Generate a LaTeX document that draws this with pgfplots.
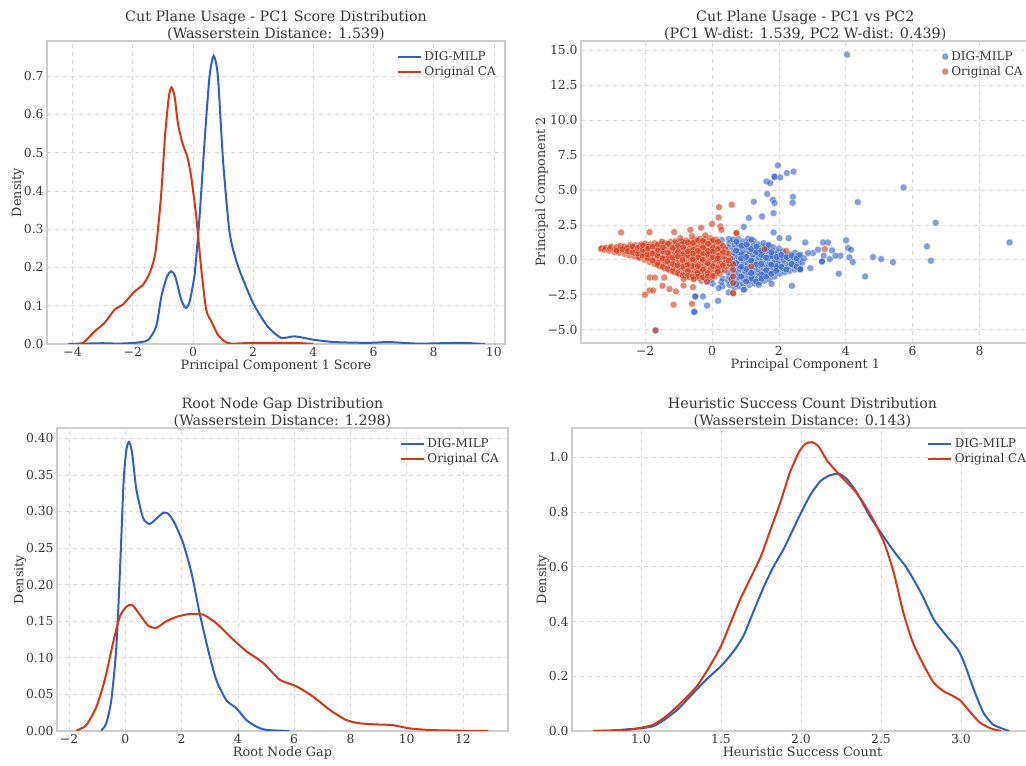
\documentclass[border=0pt]{standalone}
\usepackage{fontspec}
\setmainfont{DejaVu Serif}
\usepackage{pgfplots}
\pgfplotsset{compat=1.18}
\definecolor{digblue}{RGB}{45,95,205}
\definecolor{cared}{RGB}{215,55,20}
\definecolor{txt}{RGB}{55,55,55}
\pgfplotsset{
  panel/.style={
    scale only axis,
    anchor=south west,
    axis line style={draw=black!20, line width=0.8pt},
    grid=major,
    major grid style={dashed, black!14, line width=0.5pt},
    major tick length=0pt,
    tick label style={font=\fontsize{9.3}{10}\selectfont, text=txt},
    label style={font=\fontsize{9.6}{11}\selectfont, text=txt},
    xlabel style={yshift=4.5pt},
    ylabel style={yshift=-7pt},
    title style={font=\fontsize{10.7}{12.8}\selectfont, text=txt, align=center,
      yshift=-9.5pt},
    legend style={draw=none, fill=none, font=\fontsize{9}{10}\selectfont,
      text=txt, at={(0.995,0.985)}, anchor=north east, row sep=-1pt},
    legend cell align=left,
    /pgf/number format/assume math mode=true,
    /pgf/number format/fixed,
    /pgf/number format/fixed zerofill,
    xticklabel style={yshift=1pt},
    yticklabel style={xshift=1pt},
  },
  kde/.style={line width=1.5pt, smooth, tension=0.4},
  sblue/.style={only marks, mark=*, mark size=2.6pt,
    mark options={fill=digblue, draw=white, line width=0.3pt, opacity=0.6}},
  sred/.style={only marks, mark=*, mark size=2.6pt,
    mark options={fill=cared, draw=white, line width=0.3pt, opacity=0.6}},
}
\begin{document}
\begin{tikzpicture}
\useasboundingbox (0,0) rectangle (769.5pt,-574.5pt);

% top left: PC1 score KDE
\begin{axis}[panel, at={(35.25pt,-258pt)}, width=343.5pt, height=227.25pt,
  xmin=-4.85, xmax=10.37, ymin=0, ymax=0.792,
  xtick={-4,-2,...,10}, xticklabels={−4,−2,0,2,4,6,8,10},
  ytick={0,0.1,...,0.7},
  /pgf/number format/precision=1,
  title={Cut Plane Usage - PC1 Score Distribution\\(Wasserstein Distance: 1.539)},
  xlabel={Principal Component 1 Score}, ylabel={Density}]
\addplot[kde, digblue] coordinates {
(-4.14,0) (-3,0.002) (-2.5,0.001) (-1.94,0.003) (-1.5,0.01) (-1.22,0.046)
(-1.05,0.124) (-0.86,0.177) (-0.72,0.19) (-0.59,0.177) (-0.39,0.116)
(-0.24,0.094) (-0.11,0.111) (0.06,0.185) (0.22,0.333) (0.39,0.534)
(0.55,0.699) (0.69,0.753) (0.83,0.699) (1.0,0.48) (1.22,0.29) (1.5,0.203)
(2.0,0.107) (2.48,0.046) (2.93,0.016) (3.37,0.02) (4.03,0.011) (4.7,0.005)
(5.8,0.003) (6.53,0.005) (7.5,0.001) (8.9,0.003) (9.7,0)};
\addlegendentry{DIG-MILP}
\addplot[kde, cared] coordinates {
(-4.0,0) (-3.65,0.003) (-3.27,0.033) (-2.94,0.055) (-2.6,0.09) (-2.33,0.103)
(-1.94,0.137) (-1.66,0.155) (-1.44,0.185) (-1.25,0.238) (-1.07,0.377)
(-0.92,0.551) (-0.8,0.647) (-0.71,0.671) (-0.61,0.647) (-0.5,0.577)
(-0.35,0.525) (-0.19,0.49) (-0.06,0.438) (0.11,0.333) (0.28,0.194)
(0.44,0.09) (0.61,0.059) (0.83,0.024) (1.05,0.007) (1.27,0.001)
(2.05,0.003) (3.37,0.003) (4.0,0)};
\addlegendentry{Original CA}
\end{axis}

% top right: PC1 vs PC2 scatter
\begin{axis}[panel, at={(435.75pt,-257.25pt)}, width=336.45pt, height=226.5pt,
  xmin=-3.92, xmax=9.5, ymin=-5.96, ymax=15.67,
  xtick={-2,0,...,8}, xticklabels={−2,0,2,4,6,8},
  ytick={-5,-2.5,...,15}, yticklabels={−5.0,−2.5,0.0,2.5,5.0,7.5,10.0,12.5,15.0},
  title={Cut Plane Usage - PC1 vs PC2\\(PC1 W-dist: 1.539, PC2 W-dist: 0.439)},
  xlabel={Principal Component 1}, ylabel={Principal Component 2},
  legend style={at={(1.0,0.985)}}]
\addplot[sblue] coordinates {
(-0.32,-1.5) (-0.28,-1.1) (-0.45,-1.05) (0.02,-1.72) (-0.03,-1.45) (0.0,1.2) (-0.15,-1.6)
(0.31,-1.9) (0.28,-1.6) (0.32,-1.35) (0.29,1.42)
(0.52,-1.8) (0.48,-1.5) (0.51,-1.2) (0.49,-0.9) (0.5,1.5) (0.52,1.2) (0.48,0.9)
(0.67,-2.0) (0.63,-1.6) (0.66,-1.3) (0.64,-1.0) (0.68,-0.7) (0.62,-0.4) (0.65,-0.1)
(0.63,0.2) (0.66,0.5) (0.64,0.8) (0.67,1.1) (0.63,1.45)
(0.82,-1.9) (0.78,-1.55) (0.81,-1.25) (0.79,-0.95) (0.83,-0.65) (0.77,-0.35) (0.8,-0.05)
(0.78,0.25) (0.81,0.55) (0.79,0.85) (0.8,1.15) (0.78,1.5)
(0.97,-2.1) (0.93,-1.7) (0.96,-1.4) (0.94,-1.1) (0.98,-0.8) (0.92,-0.5) (0.95,-0.2)
(0.93,0.1) (0.96,0.4) (0.94,0.7) (0.95,1.0) (0.93,1.3)
(1.12,-1.8) (1.08,-1.5) (1.11,-1.2) (1.09,-0.9) (1.13,-0.6) (1.07,-0.3) (1.1,0.0)
(1.08,0.3) (1.11,0.6) (1.09,0.9) (1.1,1.2) (1.08,1.5)
(1.27,-1.7) (1.23,-1.4) (1.26,-1.1) (1.24,-0.8) (1.28,-0.5) (1.22,-0.2) (1.25,0.1)
(1.23,0.4) (1.26,0.7) (1.24,1.0) (1.25,1.35)
(1.42,-1.6) (1.38,-1.3) (1.41,-1.0) (1.39,-0.7) (1.43,-0.4) (1.37,-0.1) (1.4,0.2)
(1.38,0.5) (1.41,0.8) (1.39,1.1)
(1.57,-1.5) (1.53,-1.2) (1.56,-0.9) (1.54,-0.6) (1.58,-0.3) (1.52,0.0) (1.55,0.3)
(1.53,0.6) (1.56,0.9) (1.54,1.2)
(1.72,-1.4) (1.68,-1.1) (1.71,-0.8) (1.69,-0.5) (1.73,-0.2) (1.67,0.1) (1.7,0.4)
(1.68,0.7) (1.71,1.0)
(1.87,-1.2) (1.83,-0.9) (1.86,-0.6) (1.84,-0.3) (1.88,0.0) (1.82,0.3) (1.85,0.6) (1.83,0.9)
(2.02,-1.0) (1.98,-0.7) (2.01,-0.4) (1.99,-0.1) (2.03,0.2) (1.97,0.5) (2.0,0.8)
(2.17,-0.9) (2.13,-0.6) (2.16,-0.3) (2.14,0.0) (2.18,0.3) (2.12,0.6)
(2.32,-0.8) (2.28,-0.5) (2.31,-0.2) (2.29,0.1) (2.33,0.4)
(2.47,-0.7) (2.43,-0.4) (2.46,-0.1) (2.44,0.2) (2.48,0.5)
(2.62,-0.7) (2.58,-0.3) (2.61,0.0) (2.59,0.3)
(0.72,-0.25) (0.88,0.4) (1.02,-0.65) (1.17,0.75) (1.32,-0.35) (1.47,0.35)
(1.62,-0.75) (1.77,0.25) (1.92,-0.45) (0.87,-1.2) (1.18,-1.35) (1.47,-1.05)
(0.58,-1.4) (0.58,-0.55) (0.72,-1.75) (0.72,0.65) (0.73,1.3) (0.87,-0.5) (0.87,0.1)
(0.88,1.0) (1.02,-1.55) (1.02,0.2) (1.03,1.1) (1.17,-0.95) (1.17,-0.05) (1.18,1.45)
(1.32,-1.55) (1.32,0.55) (1.33,0.95) (1.47,-0.3) (1.47,0.65) (1.48,-1.35) (1.62,-1.2)
(1.62,0.15) (1.63,0.8) (1.77,-0.35) (1.77,-1.0) (1.78,0.55) (1.92,-0.8) (1.93,0.2)
(2.07,-0.5) (2.08,0.35) (2.22,-0.7) (2.23,0.2) (2.38,-0.3) (2.38,0.3) (2.53,-0.5)
(2.53,0.1) (2.7,-0.2) (2.75,0.1)
(4.04,14.69) (1.97,6.76) (1.87,5.95) (1.87,5.95) (2.04,5.9) (2.24,6.21) (2.44,6.31)
(1.63,5.61) (1.74,5.49) (1.65,4.71) (1.82,4.3) (1.87,4.06) (2.42,4.51) (2.41,4.08)
(1.84,3.34) (1.25,4.16) (1.1,2.99) (1.5,3.1) (0.95,2.36) (5.73,5.18) (4.36,4.13)
(6.69,2.65) (8.9,1.24) (6.43,0.96) (6.55,-0.07) (5.41,-0.17) (5.06,0.05) (4.82,0.19)
(4.58,-1.19) (4.01,1.39) (4.07,0.84) (4.16,0.72) (4.11,0.17) (4.21,-0.17) (3.79,-1.0)
(3.84,0.29) (3.69,0.29) (3.59,0.67) (3.52,0.05) (3.47,1.24) (3.32,1.24) (3.34,0.29)
(3.29,-0.12) (3.29,-0.12) (3.17,0.72) (3.02,0.48) (2.87,0.48) (2.94,-0.6) (2.79,1.24)
(2.64,0.36) (2.64,-0.67) (2.64,-0.67) (2.39,-1.86) (2.29,1.55) (2.02,1.55) (1.84,1.96)
(1.69,1.07) (1.78,-1.72) (-0.5,-2.63) (-0.5,-2.63) (-0.27,-2.63) (-0.15,-3.27)
(0.18,-2.94) (-0.53,-3.73) (-0.53,-3.73) (0.2,-2.03) (0.5,-2.34) (0.95,-2.15)
(1.4,-1.79) (-1.69,-5.06)};
\addlegendentry{DIG-MILP}
\addplot[sred] coordinates {
(-3.33,0.78) (-3.3,0.82) (-3.22,0.72) (-3.18,0.86) (-3.08,0.64) (-3.05,0.8) (-3.02,0.94)
(-2.92,0.56) (-2.9,0.73) (-2.86,0.9) (-2.78,0.5) (-2.76,0.67) (-2.72,0.84) (-2.74,1.0)
(-2.62,0.43) (-2.6,0.6) (-2.57,0.78) (-2.63,0.95) (-2.47,0.32) (-2.45,0.52) (-2.42,0.7)
(-2.48,0.88) (-2.44,1.05) (-2.32,0.25) (-2.3,0.45) (-2.27,0.64) (-2.33,0.85) (-2.29,1.04)
(-2.17,0.12) (-2.14,0.35) (-2.18,0.55) (-2.12,0.74) (-2.16,0.95) (-2.13,1.1)
(-2.02,0.0) (-1.98,0.2) (-2.03,0.42) (-1.99,0.62) (-2.01,0.82) (-1.97,1.02) (-2.0,1.16)
(-1.87,-0.15) (-1.84,0.08) (-1.88,0.3) (-1.83,0.5) (-1.86,0.7) (-1.82,0.9) (-1.85,1.1)
(-1.72,-0.3) (-1.68,-0.08) (-1.71,0.15) (-1.69,0.38) (-1.73,0.6) (-1.67,0.8) (-1.7,1.0)
(-1.72,1.18) (-1.57,-0.45) (-1.53,-0.22) (-1.56,0.0) (-1.54,0.22) (-1.58,0.45)
(-1.52,0.68) (-1.55,0.9) (-1.53,1.1) (-1.42,-0.6) (-1.38,-0.38) (-1.41,-0.15)
(-1.39,0.08) (-1.43,0.3) (-1.37,0.52) (-1.4,0.75) (-1.38,0.98) (-1.41,1.2)
(-1.27,-0.75) (-1.23,-0.5) (-1.26,-0.28) (-1.24,-0.05) (-1.28,0.18) (-1.22,0.4)
(-1.25,0.62) (-1.23,0.85) (-1.26,1.08) (-1.24,1.28) (-1.12,-0.9) (-1.08,-0.65)
(-1.11,-0.42) (-1.09,-0.2) (-1.13,0.05) (-1.07,0.28) (-1.1,0.5) (-1.08,0.72)
(-1.11,0.95) (-1.09,1.18) (-1.1,1.32) (-0.97,-1.05) (-0.93,-0.8) (-0.96,-0.55)
(-0.94,-0.3) (-0.98,-0.08) (-0.92,0.15) (-0.95,0.38) (-0.93,0.6) (-0.96,0.85)
(-0.94,1.08) (-0.95,1.3) (-0.82,-1.15) (-0.78,-0.9) (-0.81,-0.65) (-0.79,-0.42)
(-0.83,-0.2) (-0.77,0.05) (-0.8,0.28) (-0.78,0.5) (-0.81,0.75) (-0.79,0.98) (-0.8,1.2)
(-0.78,1.38) (-0.67,-1.25) (-0.63,-1.0) (-0.66,-0.75) (-0.64,-0.5) (-0.68,-0.28)
(-0.62,-0.05) (-0.65,0.18) (-0.63,0.42) (-0.66,0.65) (-0.64,0.88) (-0.65,1.1)
(-0.63,1.35) (-0.52,-1.3) (-0.48,-1.05) (-0.51,-0.82) (-0.49,-0.58) (-0.53,-0.35)
(-0.47,-0.1) (-0.5,0.12) (-0.48,0.35) (-0.51,0.6) (-0.49,0.82) (-0.5,1.05) (-0.48,1.3)
(-0.51,1.45) (-0.37,-1.3) (-0.33,-1.08) (-0.36,-0.85) (-0.34,-0.6) (-0.38,-0.38)
(-0.32,-0.15) (-0.35,0.1) (-0.33,0.32) (-0.36,0.55) (-0.34,0.8) (-0.35,1.02)
(-0.33,1.25) (-0.36,1.5) (-0.22,-1.35) (-0.18,-1.1) (-0.21,-0.88) (-0.19,-0.65)
(-0.23,-0.4) (-0.17,-0.18) (-0.2,0.05) (-0.18,0.3) (-0.21,0.52) (-0.19,0.75) (-0.2,1.0)
(-0.18,1.22) (-0.21,1.45) (-0.07,-1.3) (-0.03,-1.05) (-0.06,-0.8) (-0.04,-0.58)
(-0.08,-0.35) (-0.02,-0.12) (-0.05,0.1) (-0.03,0.35) (-0.06,0.58) (-0.04,0.8)
(-0.05,1.05) (-0.03,1.3) (-0.06,1.55) (0.08,-1.2) (0.12,-0.95) (0.09,-0.72) (0.11,-0.5)
(0.07,-0.25) (0.13,0.0) (0.1,0.22) (0.12,0.45) (0.09,0.7) (0.11,0.95) (0.1,1.2)
(0.12,1.45) (0.23,-1.0) (0.27,-0.78) (0.24,-0.55) (0.26,-0.3) (0.22,-0.05) (0.28,0.18)
(0.25,0.4) (0.27,0.65) (0.24,0.9) (0.26,1.15) (0.38,-0.75) (0.42,-0.5) (0.39,-0.25)
(0.41,0.0) (0.37,0.25) (0.43,0.5) (0.4,0.75) (0.52,-0.3) (0.55,0.1) (0.5,0.45)
(-1.47,0.6) (-1.3,0.25) (-1.17,-0.3) (-1.02,0.6) (-0.88,-0.5) (-0.87,0.4) (-0.72,-0.8)
(-0.72,0.3) (-0.58,-0.45) (-0.57,0.75) (-0.43,-0.95) (-0.42,0.2) (-0.28,-0.7)
(-0.27,0.45) (-0.13,-0.95) (-0.12,0.65) (0.02,-0.45) (0.03,0.85) (0.17,-0.6) (0.18,0.3)
(-2.55,0.85) (-2.2,0.2) (-1.9,0.95) (-1.62,-0.2)
(-2.85,0.65) (-2.68,0.75) (-2.52,0.62) (-2.38,0.55) (-2.38,0.95) (-2.22,0.45)
(-2.22,0.85) (-2.08,0.3) (-2.08,0.7) (-2.07,1.05) (-1.93,0.1) (-1.93,0.4) (-1.92,0.8)
(-1.78,-0.05) (-1.78,0.45) (-1.77,0.95) (-1.63,-0.35) (-1.63,0.3) (-1.62,0.7)
(-1.62,1.1) (-1.48,-0.5) (-1.48,0.1) (-1.47,0.9) (-1.33,-0.65) (-1.33,-0.1) (-1.32,0.5)
(-1.32,1.15) (-1.18,-0.8) (-1.18,0.15) (-1.17,0.85) (-1.03,-0.95) (-1.03,-0.4)
(-1.02,0.25) (-1.02,1.0) (-0.88,-1.1) (-0.88,0.0) (-0.87,0.9) (-0.87,1.3) (-0.73,-1.15)
(-0.73,-0.35) (-0.72,0.6) (-0.72,1.25) (-0.58,-1.2) (-0.58,0.05) (-0.57,0.45)
(-0.57,1.2) (-0.43,-1.2) (-0.43,-0.45) (-0.42,0.65) (-0.42,1.4) (-0.28,-1.25)
(-0.28,0.0) (-0.27,0.9) (-0.27,1.35) (-0.13,-1.2) (-0.13,-0.25) (-0.12,0.4) (-0.12,1.15)
(0.02,-1.15) (0.02,0.2) (0.03,0.6) (0.03,1.4) (0.17,-0.85) (0.17,0.1) (0.18,0.8)
(0.18,1.3) (0.32,-0.4) (0.33,0.55) (0.33,1.0)
(-2.72,1.96) (-1.87,1.98) (-1.13,1.98) (-0.65,2.15) (-0.33,2.29) (0.0,2.56) (0.21,3.77)
(0.59,3.94) (0.2,3.03) (0.25,2.39) (0.28,2.15) (0.73,1.91) (0.73,1.91) (-2.01,-2.51)
(-1.87,-2.2) (-1.76,-2.2) (-1.86,-1.27) (-1.71,-1.27) (-1.43,-1.27) (-1.48,-1.86)
(-1.27,-2.1) (-1.08,-2.27) (-1.15,-3.22) (-0.85,-1.84) (-0.57,-1.96) (-0.6,-3.15)
(-0.85,-1.39) (-0.55,-1.39) (0.63,-2.39) (0.63,-2.39) (0.63,-1.67) (0.63,-1.19)
(0.63,-0.72) (0.63,-0.3) (-1.69,-5.06) (1.57,0.76) (1.17,-0.48) (2.22,0.64) (3.37,0.76)
(0.5,-0.05) (-0.15,-1.55) (-0.6,1.7) (-1.5,1.3) (-0.95,1.55) (-0.2,1.75)};
\addlegendentry{Original CA}
\end{axis}

% bottom left: root node gap KDE
\begin{axis}[panel, at={(42.75pt,-548.25pt)}, width=338.25pt, height=227.25pt,
  xmin=-2.43, xmax=13.6, ymin=0, ymax=0.414,
  xtick={-2,0,...,12}, xticklabels={−2,0,2,4,6,8,10,12},
  ytick={0,0.05,...,0.4},
  /pgf/number format/precision=2,
  title={Root Node Gap Distribution\\(Wasserstein Distance: 1.298)},
  xlabel={Root Node Gap}, ylabel={Density}]
\addplot[kde, digblue] coordinates {
(-0.85,0.001) (-0.68,0.0105) (-0.5,0.042) (-0.32,0.115) (-0.18,0.23) (-0.06,0.343)
(0.04,0.385) (0.13,0.395) (0.24,0.38) (0.39,0.33) (0.63,0.291) (0.86,0.283)
(1.1,0.29) (1.34,0.298) (1.52,0.297) (1.75,0.284) (2.05,0.257) (2.35,0.216)
(2.64,0.161) (2.94,0.111) (3.23,0.07) (3.59,0.042) (3.95,0.031) (4.3,0.015)
(4.66,0.006) (5.01,0.0015) (5.84,0)};
\addlegendentry{DIG-MILP}
\addplot[kde, cared] coordinates {
(-1.74,0.0005) (-1.39,0.008) (-1.03,0.033) (-0.73,0.07) (-0.44,0.12) (-0.2,0.156)
(0.04,0.17) (0.25,0.172) (0.51,0.159) (0.81,0.144) (1.1,0.141) (1.46,0.15)
(1.82,0.156) (2.29,0.16) (2.76,0.159) (3.24,0.147) (3.83,0.125) (4.3,0.109)
(4.9,0.093) (5.49,0.07) (6.08,0.061) (6.67,0.047) (7.26,0.029) (7.85,0.015)
(8.33,0.0105) (8.92,0.009) (9.5,0.008) (10.1,0.0036) (10.8,0.0014) (12.0,0.0003)
(12.9,0)};
\addlegendentry{Original CA}
\end{axis}

% bottom right: heuristic success KDE
\begin{axis}[panel, at={(429pt,-548.25pt)}, width=345.75pt, height=227.25pt,
  xmin=0.569, xmax=3.45, ymin=0, ymax=1.107,
  xtick={1,1.5,...,3}, ytick={0,0.2,...,1},
  /pgf/number format/precision=1,
  title={Heuristic Success Count Distribution\\(Wasserstein Distance: 0.143)},
  xlabel={Heuristic Success Count}, ylabel={Density},
  legend style={at={(1.0,0.985)}}]
\addplot[kde, digblue] coordinates {
(0.7,0) (0.81,0.001) (0.91,0.006) (1.0,0.01) (1.08,0.018) (1.15,0.043) (1.23,0.079)
(1.31,0.128) (1.41,0.189) (1.5,0.237) (1.58,0.292) (1.64,0.347) (1.7,0.432)
(1.77,0.53) (1.83,0.602) (1.89,0.663) (1.95,0.736) (2.0,0.797) (2.06,0.864)
(2.12,0.912) (2.18,0.934) (2.24,0.939) (2.29,0.918) (2.35,0.87) (2.43,0.785)
(2.5,0.724) (2.58,0.657) (2.66,0.596) (2.75,0.505) (2.83,0.408) (2.91,0.347)
(2.98,0.298) (3.02,0.249) (3.08,0.152) (3.14,0.067) (3.2,0.024) (3.26,0.0085) (3.3,0)};
\addlegendentry{DIG-MILP}
\addplot[kde, cared] coordinates {
(0.7,0) (0.91,0.004) (1.0,0.012) (1.08,0.024) (1.16,0.055) (1.25,0.103) (1.35,0.164)
(1.43,0.237) (1.5,0.31) (1.56,0.395) (1.62,0.48) (1.68,0.553) (1.75,0.639)
(1.81,0.736) (1.87,0.833) (1.93,0.943) (1.99,1.022) (2.03,1.05) (2.07,1.055)
(2.11,1.04) (2.16,0.991) (2.22,0.949) (2.27,0.918) (2.33,0.882) (2.39,0.833)
(2.45,0.773) (2.52,0.687) (2.58,0.578) (2.64,0.432) (2.7,0.322) (2.77,0.237)
(2.83,0.176) (2.89,0.146) (2.95,0.128) (3.0,0.109) (3.06,0.067) (3.12,0.03)
(3.19,0.0085) (3.25,0)};
\addlegendentry{Original CA}
\end{axis}
\end{tikzpicture}
\end{document}
